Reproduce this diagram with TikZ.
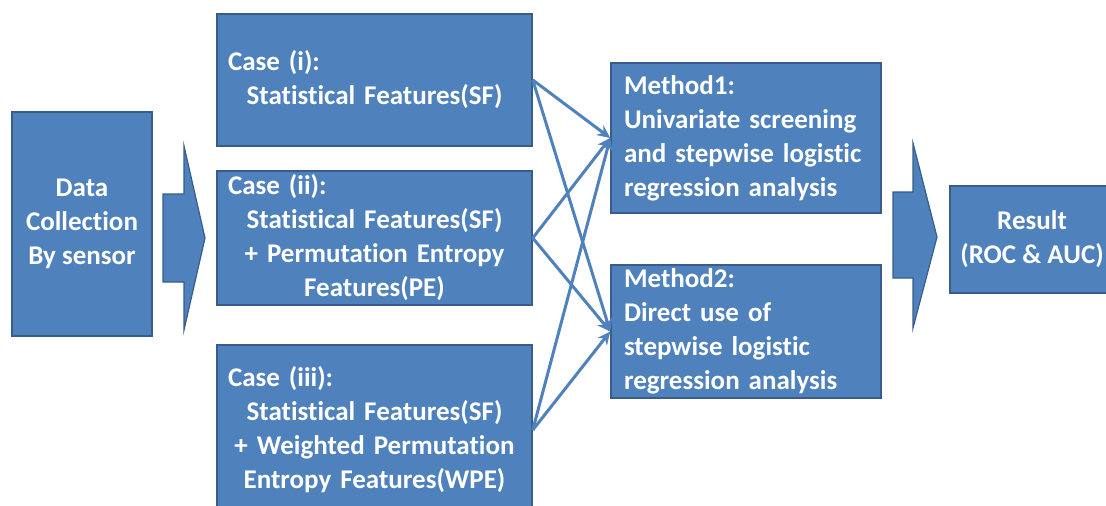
\documentclass[tikz,border=0pt]{standalone}
\usepackage{fontspec}
\setmainfont{Carlito}[Ligatures={NoCommon}]
\usetikzlibrary{arrows.meta}
\definecolor{boxblue}{HTML}{4F81BD}
\definecolor{edgeblue}{HTML}{385D8A}
\tikzset{
  blk/.style={draw=edgeblue, line width=1.5pt, fill=boxblue, text=white, inner sep=0pt,
    font=\bfseries\fontsize{27}{34}\selectfont},
  casebox/.style={blk, minimum width=315pt, text width=293pt, align=center},
  methbox/.style={blk, minimum width=270pt, text width=244pt, align=left},
  conn/.style={draw=boxblue, line width=3pt, -{Stealth[length=13pt,width=12pt]}},
  blockarrow/.style={draw=edgeblue, line width=1.2pt, fill=boxblue}
}
\begin{document}
\begin{tikzpicture}[x=1pt,y=-1pt]
\useasboundingbox (0,0) rectangle (1106,506);
\begin{scope}
\clip (0,0) rectangle (1106,506);
\node[blk, minimum width=140pt, minimum height=224pt, align=center] (data) at (82,224)
  {Data\\Collection\\By sensor};
\node[casebox, minimum height=132pt] (c1) at (374.5,80)
  {\makebox[\linewidth][l]{Case (i):}\\Statistical Features(SF)};
\node[casebox, minimum height=134pt] (c2) at (374.5,238)
  {\makebox[\linewidth][l]{Case (ii):}\\Statistical Features(SF)\\+ Permutation Entropy\\Features(PE)};
\node[casebox, minimum height=170pt] (c3) at (374.5,430)
  {\makebox[\linewidth][l]{Case (iii):}\\Statistical Features(SF)\\+ Weighted Permutation\\Entropy Features(WPE)};
\node[methbox, minimum height=150pt] (m1) at (746,138)
  {Method1:\\Univariate screening\\and stepwise logistic\\regression analysis};
\node[methbox, minimum height=133pt] (m2) at (746,331.5)
  {Method2:\\Direct use of\\stepwise logistic\\regression analysis};
\node[blk, minimum width=164pt, minimum height=107pt, align=center] (res) at (1032,239.5)
  {Result\\(ROC \& AUC)};
\path[blockarrow] (163,194) -- (184,194) -- (184,146) -- (205,238) -- (184,330) -- (184,282) -- (163,282) -- cycle;
\path[blockarrow] (893,192) -- (913,192) -- (913,143) -- (937,237) -- (913,328) -- (913,278) -- (893,278) -- cycle;
\draw[conn] (c1.east) -- (m1.west);
\draw[conn] (c1.east) -- (m2.west);
\draw[conn] (c2.east) -- (m1.west);
\draw[conn] (c2.east) -- (m2.west);
\draw[conn] (c3.east) -- (m1.west);
\draw[conn] (c3.east) -- (m2.west);
\end{scope}
\end{tikzpicture}
\end{document}
